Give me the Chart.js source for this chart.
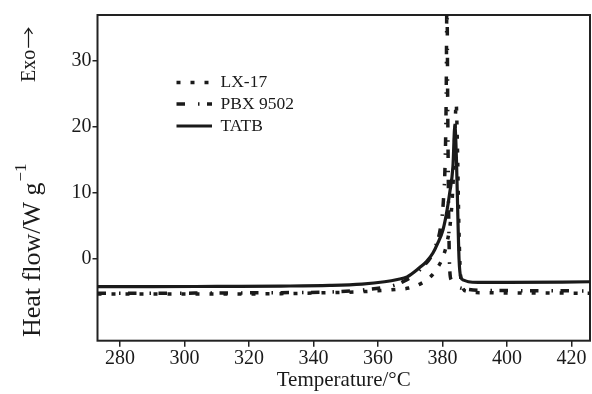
<!DOCTYPE html>
<html>
<head>
<meta charset="utf-8">
<script src="https://cdn.jsdelivr.net/npm/chart.js@4.4.1/dist/chart.umd.min.js"></script>
<style>
html, body { margin: 0; padding: 0; background: #fff; }
</style>
</head>
<body>
<canvas id="dsc" width="592" height="394"></canvas>
<script>
// DSC curves, values
const xTicks = [280, 300, 320, 340, 360, 380, 400, 420];
const yTicks = [0, 10, 20, 30];

const lx17Temp = [273, 290, 310, 330, 345, 355, 362, 366, 369.5, 373.4, 376, 377.6, 380.1, 381.5, 382.5, 383.3, 383.8, 384.2, 384.6, 385.0, 385.4, 386, 387.5, 392, 410, 425.7];
const lx17Flow = [-5.3, -5.3, -5.3, -5.25, -5.1, -4.95, -4.75, -4.6, -4.4, -3.7, -2.8, -1.9, 0.3, 2.8, 6, 12, 19, 23.6, 17, 6, -1, -4, -4.9, -5.1, -5.15, -5.2];

const pbxTemp = [273, 290, 310, 330, 345, 355, 362, 365.5, 368.3, 371, 374, 376.5, 378, 379.3, 380.2, 380.8, 381.1, 381.35, 381.6, 381.9, 382.2, 382.7, 383.3, 385, 388, 392, 410, 425.7];
const pbxFlow = [-5.2, -5.2, -5.15, -5.1, -5.0, -4.7, -4.3, -3.9, -3.3, -2.5, -1.1, 0.4, 2.2, 4.6, 8.5, 15, 24, 40, 22, 6, -1.5, -3.2, -3.8, -4.3, -4.6, -4.75, -4.8, -4.85];

const tatbTemp = [273, 290, 310, 330, 345, 355, 362, 366, 369, 372.9, 375, 377, 378.5, 380.1, 381.2, 382.2, 383.2, 383.8, 384.3, 384.7, 385.1, 385.6, 386.5, 388, 391, 400, 425.7];
const tatbFlow = [-4.2, -4.2, -4.15, -4.1, -4.0, -3.8, -3.45, -3.1, -2.7, -1.3, -0.4, 0.9, 2.4, 4.4, 6.9, 10, 14, 20.2, 15, 7, 0, -2.7, -3.2, -3.45, -3.55, -3.55, -3.45];

const serif = '"Liberation Serif", "Times New Roman", serif';
const ink = '#1a1a1a';

function pairs(xs, ys) {
    return xs.map((x, i) => ({ x: x, y: ys[i] }));
}

// frame, inside legend and rotated y titles
const decorations = {
    id: 'decorations',
    beforeDatasetsDraw(chart) {
        const { ctx, chartArea: a } = chart;
        ctx.save();
        ctx.strokeStyle = '#222';
        ctx.lineWidth = 2;
        ctx.strokeRect(a.left, a.top, a.right - a.left, a.bottom - a.top);
        ctx.restore();
    },
    afterDraw(chart) {
        const ctx = chart.ctx;
        ctx.save();
        ctx.fillStyle = ink;
        ctx.strokeStyle = ink;

        // legend
        const rows = [82.5, 104, 126];
        chart.data.datasets.forEach((ds, i) => {
            const y = rows[i];
            ctx.lineWidth = ds.borderWidth;
            ctx.setLineDash(ds.borderDash || []);
            ctx.beginPath();
            ctx.moveTo(176.5, y);
            ctx.lineTo(212, y);
            ctx.stroke();
            ctx.setLineDash([]);
            ctx.font = '17.5px ' + serif;
            ctx.textAlign = 'left';
            ctx.textBaseline = 'middle';
            ctx.fillText(ds.label, 220.5, y);
        });

        // y title with superscript
        ctx.save();
        ctx.translate(40, 337);
        ctx.rotate(-Math.PI / 2);
        ctx.font = '26px ' + serif;
        ctx.textAlign = 'left';
        ctx.textBaseline = 'alphabetic';
        const main = 'Heat flow/W g';
        ctx.fillText(main, 0, 0);
        const w = ctx.measureText(main).width;
        ctx.font = '17px ' + serif;
        ctx.fillText('\u22121', w + 1, -14);
        ctx.restore();

        // exotherm direction: text plus a drawn arrow
        ctx.save();
        ctx.translate(35, 82);
        ctx.rotate(-Math.PI / 2);
        ctx.font = '20px ' + serif;
        ctx.textAlign = 'left';
        ctx.textBaseline = 'alphabetic';
        ctx.fillText('Exo', 0, 0);
        const ew = ctx.measureText('Exo').width;
        ctx.lineWidth = 1.2;
        ctx.beginPath();
        ctx.moveTo(ew + 2, -6.5);
        ctx.lineTo(ew + 21, -6.5);
        ctx.moveTo(ew + 16, -10.5);
        ctx.lineTo(ew + 21.5, -6.5);
        ctx.lineTo(ew + 16, -2.5);
        ctx.stroke();
        ctx.restore();

        ctx.restore();
    }
};

const dsc = new Chart(document.getElementById('dsc'), {
    type: 'line',
    data: {
        datasets: [
            {
                label: 'LX-17',
                data: pairs(lx17Temp, lx17Flow),
                borderColor: ink,
                borderWidth: 3.5,
                borderDash: [4, 10],
                pointRadius: 0,
                cubicInterpolationMode: 'monotone'
            },
            {
                label: 'PBX 9502',
                data: pairs(pbxTemp, pbxFlow),
                borderColor: ink,
                borderWidth: 3.5,
                borderDash: [8.5, 13, 1.5, 7.5],
                pointRadius: 0,
                cubicInterpolationMode: 'monotone'
            },
            {
                label: 'TATB',
                data: pairs(tatbTemp, tatbFlow),
                borderColor: ink,
                borderWidth: 3.2,
                pointRadius: 0,
                cubicInterpolationMode: 'monotone'
            }
        ]
    },
    options: {
        responsive: false,
        animation: false,
        devicePixelRatio: 1,
        layout: { padding: { top: 15, right: 2, left: 0, bottom: 0 } },
        plugins: {
            legend: { display: false },
            tooltip: { enabled: false }
        },
        scales: {
            x: {
                type: 'linear',
                min: 273,
                max: 425.7,
                afterBuildTicks: (axis) => { axis.ticks = xTicks.map(v => ({ value: v })); },
                afterFit: (axis) => { axis.height = 53.3; },
                border: { display: false },
                grid: { drawOnChartArea: false, drawTicks: true, tickLength: 6, color: '#222', lineWidth: 1.5 },
                ticks: { color: ink, padding: 0, maxRotation: 0, font: { family: serif, size: 20 } },
                title: {
                    display: true,
                    text: 'Temperature/°C',
                    color: ink,
                    padding: { top: 0, bottom: 1 },
                    font: { family: serif, size: 21 }
                }
            },
            y: {
                min: -12.38,
                max: 36.97,
                afterBuildTicks: (axis) => { axis.ticks = yTicks.map(v => ({ value: v })); },
                afterFit: (axis) => { axis.width = 97.5; },
                border: { display: false },
                grid: { drawOnChartArea: false, drawTicks: true, tickLength: 5, color: '#222', lineWidth: 1.5 },
                ticks: { color: ink, padding: 1, font: { family: serif, size: 20 } }
            }
        }
    },
    plugins: [decorations]
});
</script>
</body>
</html>
